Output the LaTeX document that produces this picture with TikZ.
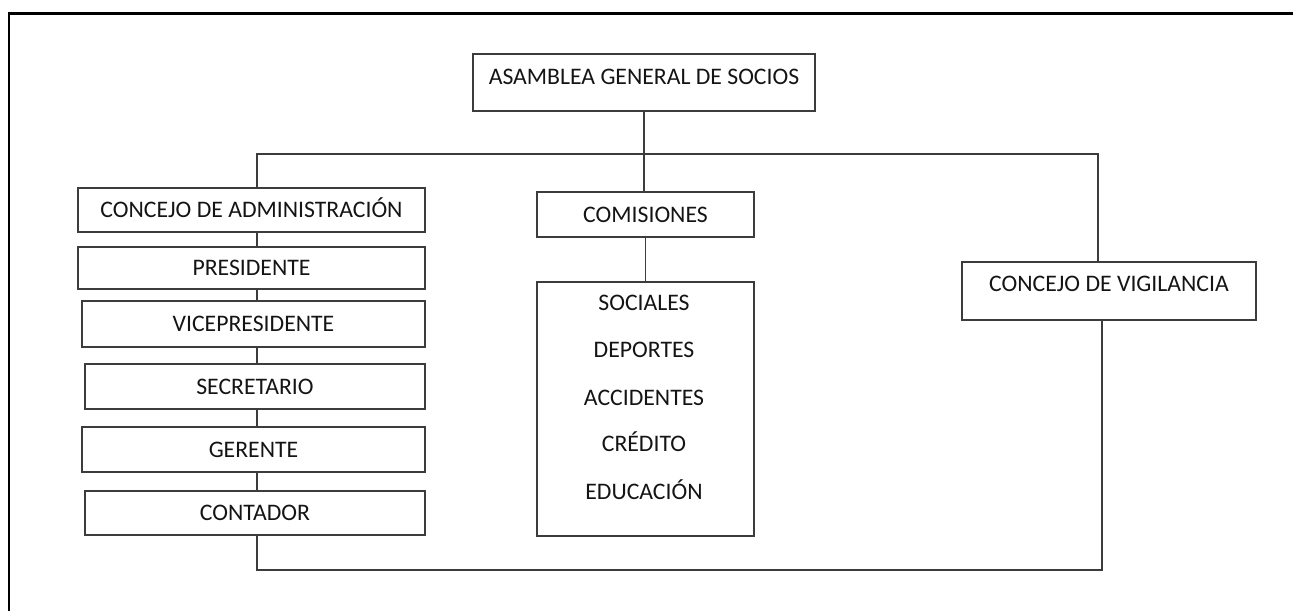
\documentclass[tikz,border=0pt]{standalone}
\usepackage{fontspec}
\setmainfont{Carlito}
\usepackage{tikz}
\definecolor{linegray}{RGB}{60,60,60}
\definecolor{textgray}{RGB}{20,20,20}

\begin{document}
\begin{tikzpicture}[x=0.02cm, y=-0.02cm,
	box/.style={draw=linegray, line width=0.9pt, rectangle, inner sep=0pt, text height=0.31cm, text depth=0pt, text=textgray, font=\fontsize{13.5}{16}\selectfont},
	item/.style={inner sep=0pt, text height=0.31cm, text depth=0pt, text=textgray, font=\fontsize{13.5}{16}\selectfont},
	link/.style={draw=linegray, line width=0.9pt}]
			% Page and outer frame
			\useasboundingbox (0,0) rectangle (1293,610);
			\clip (0,0) rectangle (1293,610);
			\draw[line width=1.7pt] (9,13) rectangle (1320,640);
			
			% Draw top box
			\node[box, minimum width=6.84cm, minimum height=1.14cm, text depth=0.22cm] (asam) at (644,82.5) {ASAMBLEA GENERAL DE SOCIOS};
			
			% Draw administration column
			\node[box, minimum width=6.94cm, minimum height=0.88cm] (adm) at (251.5,210) {CONCEJO DE ADMINISTRACIÓN};
			\node[box, minimum width=6.94cm, minimum height=0.84cm] (pres) at (251.5,268) {PRESIDENTE};
			\node[box, minimum width=6.86cm, minimum height=0.92cm] (vice) at (253.5,324) {VICEPRESIDENTE};
			\node[box, minimum width=6.80cm, minimum height=0.90cm] (secr) at (255,386.5) {SECRETARIO};
			\node[box, minimum width=6.86cm, minimum height=0.90cm] (ger) at (253.5,449.5) {GERENTE};
			\node[box, minimum width=6.80cm, minimum height=0.88cm] (cont) at (255,513) {CONTADOR};
			
			% Draw commissions and their list
			\node[box, minimum width=4.34cm, minimum height=0.90cm] (com) at (645.5,214.5) {COMISIONES};
			\node[box, minimum width=4.34cm, minimum height=5.08cm] (lst) at (645.5,409) {};
			\foreach \t/\yy [count=\i] in {SOCIALES/303, DEPORTES/350, ACCIDENTES/398, CRÉDITO/444, EDUCACIÓN/492}
				\node[item] (it\i) at (644,\yy) {\t};
			
			% Draw vigilance box
			\node[box, minimum width=5.88cm, minimum height=1.16cm, text depth=0.28cm] (vig) at (1109,291) {CONCEJO DE VIGILANCIA};
			
			% Bus corners
			\coordinate (bl) at (257,154);
			\coordinate (br) at (1098,154);
			\coordinate (dl) at (257,570);
			\coordinate (dr) at (1102,570);
			
			% Draw connectors
			\draw[link] (asam.south) -- (asam.south |- com.north);
			\draw[link] (com.south) -- (lst.north);
			\draw[link] (bl |- adm.north) -- (bl) -- (br) -- (br |- vig.north);
			\foreach \a/\b in {adm/pres, pres/vice, vice/secr, secr/ger, ger/cont}
				\draw[link] (bl |- \a.south) -- (bl |- \b.north);
			\draw[link] (dl |- cont.south) -- (dl) -- (dr) -- (dr |- vig.south);
		\end{tikzpicture}
\end{document}
